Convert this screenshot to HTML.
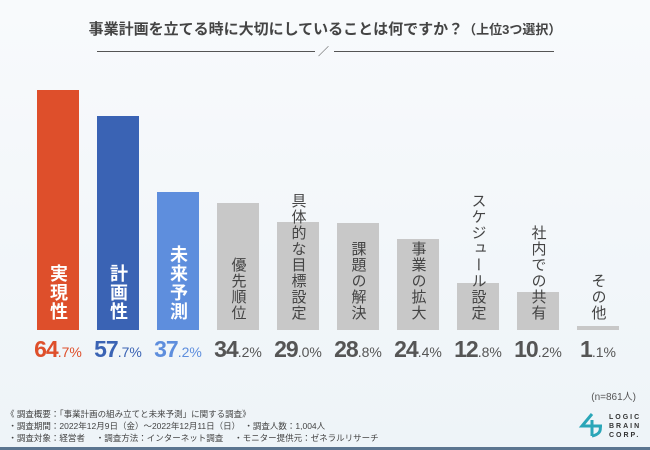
<!DOCTYPE html>
<html><head><meta charset="utf-8">
<style>
body{margin:0;width:650px;height:450px;overflow:hidden;background:#f6f9fb;font-family:"Liberation Sans","Noto Sans CJK JP",sans-serif;}
#wrap{position:relative;width:650px;height:450px;background:linear-gradient(180deg,#f8fafc,#eef4f8);}
.bl{position:absolute;writing-mode:vertical-rl;text-orientation:upright;letter-spacing:1px;}
.pv{position:absolute;font-weight:bold;text-align:center;width:70px;}
.pv .n{font-size:23px;letter-spacing:-1px}
.pv .d{font-size:14px;font-weight:normal}
</style></head><body>
<div id="wrap">
<div style="position:absolute;left:0;width:650px;top:18px;text-align:center;font-size:15px;font-weight:bold;color:#444;">事業計画を立てる時に大切にしていることは何ですか？<span style="font-size:13px">（上位3つ選択）</span></div>
<div style="position:absolute;left:97px;top:51px;width:218px;height:1px;background:#555"></div>
<div style="position:absolute;left:318px;top:43px;font-size:11px;color:#555">／</div>
<div style="position:absolute;left:334px;top:51px;width:220px;height:1px;background:#555"></div>
<div id="bars"></div>
<div style="position:absolute;right:14px;top:388px;font-size:10px;color:#555">(n=861人)</div>
<div style="position:absolute;left:6px;top:408px;font-size:8.5px;line-height:12px;color:#444">《 調査概要：「事業計画の組み立てと未来予測」に関する調査》<br>&nbsp;・調査期間：2022年12月9日（金）〜2022年12月11日（日）　・調査人数：1,004人<br>&nbsp;・調査対象：経営者　 ・調査方法：インターネット調査　 ・モニター提供元：ゼネラルリサーチ</div>
<svg style="position:absolute;left:578px;top:412px" width="28" height="26"><path d="M14 2 L4 14 H24 M14 8 V24 M14 24 Q24 22 22 14" fill="none" stroke="#2aa6b8" stroke-width="3"/></svg>
<div style="position:absolute;left:609px;top:413px;font-size:7px;line-height:9px;font-weight:bold;letter-spacing:2px;color:#333">LOGIC<br>BRAIN<br>CORP.</div>
<div style="position:absolute;left:0;top:447px;width:650px;height:3px;background:#5b7590"></div>
</div>
<script>
const categories=["実現性","計画性","未来予測","優先順位","具体的な目標設定","課題の解決","事業の拡大","スケジュール設定","社内での共有","その他"];
const values=[64.7,57.7,37.2,34.2,29.0,28.8,24.4,12.8,10.2,1.1];
const barColors=["#de4f2b","#3a63b4","#5e8edd","#c8c8c8","#c8c8c8","#c8c8c8","#c8c8c8","#c8c8c8","#c8c8c8","#c8c8c8"];
const valColors=["#de4f2b","#3a63b4","#5e8edd","#555","#555","#555","#555","#555","#555","#555"];
const base=330,scale=3.71,x0=37,step=60,bw=42;
const host=document.getElementById('bars');
function xs(i){return x0+i*step;}
function ys(v){return base-v*scale;}
categories.forEach((c,i)=>{
 const v=values[i];
 const b=document.createElement('div');
 
 
 b.style.cssText=`position:absolute;left:${xs(i)}px;top:${ys(v)}px;width:${bw}px;height:${v*scale}px;background:${barColors[i]}`;
 host.appendChild(b);
 const l=document.createElement('div');
 
 
 l.className='bl';
 const colored=i<3;
 const fs=colored?18:15;
 l.style.cssText+=`font-size:${fs}px;line-height:${fs+4}px;font-weight:${colored?'bold':'normal'};color:${colored?'#fff':'#444'};left:${xs(i)+bw/2-(fs+4)/2}px;bottom:${450-321}px;`;
 l.textContent=c;
 host.appendChild(l);
 const p=document.createElement('div');
 
 
 p.className='pv';
 const s=v.toFixed(1).split('.');
 p.innerHTML=`<span class="n">${s[0]}</span><span class="d">.${s[1]}%</span>`;
 p.style.cssText+=`left:${xs(i)+bw/2-35}px;top:336px;color:${valColors[i]}`;
 host.appendChild(p);
});
</script>
</body></html>
